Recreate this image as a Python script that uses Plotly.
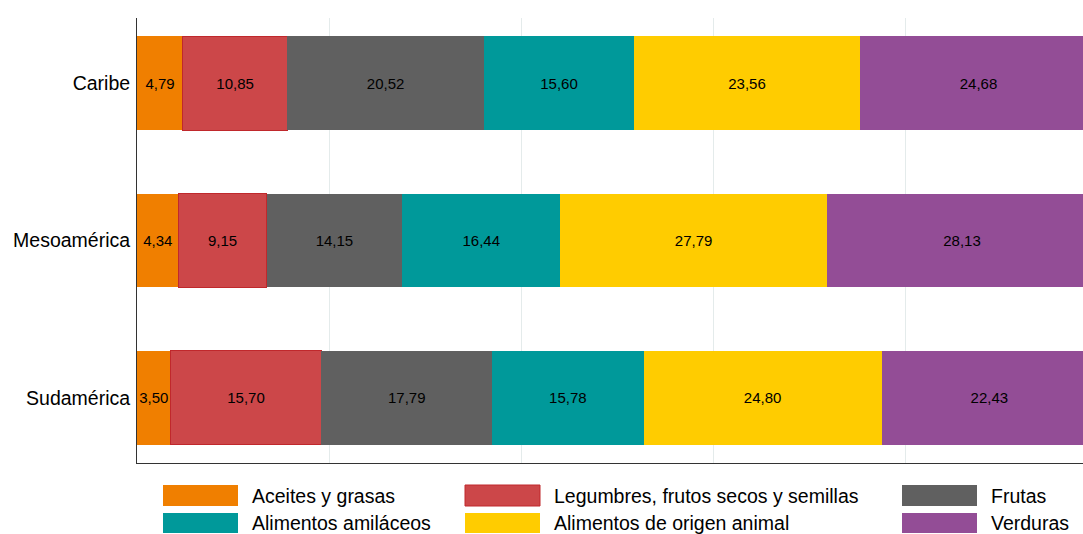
import plotly.graph_objects as go

regions = ["Caribe", "Mesoamérica", "Sudamérica"]
series_names = ["Aceites y grasas", "Legumbres, frutos secos y semillas", "Frutas",
                "Alimentos amiláceos", "Alimentos de origen animal", "Verduras"]
aceites = [4.79, 4.34, 3.50]
legumbres = [10.85, 9.15, 15.70]
frutas = [20.52, 14.15, 17.79]
amilaceos = [15.60, 16.44, 15.78]
animal = [23.56, 27.79, 24.80]
verduras = [24.68, 28.13, 22.43]
series_values = [aceites, legumbres, frutas, amilaceos, animal, verduras]

colors = ["#F07F00", "#CC4749", "#606060", "#00999A", "#FFCC00", "#934D96"]
line_colors = [None, "#C0282C", None, None, None, None]

FONT = "Arial, 'Liberation Sans', sans-serif"
W, H = 1083, 534
ML, MR, MT, MB = 137, 0, 18, 71
plot_w = W - ML - MR
plot_h = H - MT - MB

fig = go.Figure()
for name, vals, col, lc in zip(series_names, series_values, colors, line_colors):
    fig.add_trace(go.Bar(
        y=regions, x=vals, name=name, orientation="h",
        marker=dict(color=col, line=dict(color=lc if lc else col, width=1 if lc else 0)),
        width=0.595,
        texttemplate="%{x:.2f}", textposition="inside", insidetextanchor="middle",
        textangle=0, constraintext="none",
        textfont=dict(family=FONT, size=15, color="#000000"),
        showlegend=False, hoverinfo="skip",
    ))

# custom legend (swatches as shapes, labels as annotations); page pixel positions
col_px = [163, 465, 902]
row_px = [(485, 506), (513, 533)]
txt_center = [496, 523]
sw_w = 75
txt_gap = 13
order = [[0, 1, 2], [3, 4, 5]]


def px_to_paper_x(px):
    return (px - ML) / plot_w


def px_to_paper_y(py):
    return (MT + plot_h - py) / plot_h


shapes = []
annotations = []
for r, row in enumerate(order):
    y0p, y1p = row_px[r]
    for c, idx in enumerate(row):
        lc = line_colors[idx] if line_colors[idx] else colors[idx]
        shapes.append(dict(type="rect", xref="paper", yref="paper",
                           x0=px_to_paper_x(col_px[c]), x1=px_to_paper_x(col_px[c] + sw_w),
                           y0=px_to_paper_y(y1p), y1=px_to_paper_y(y0p),
                           fillcolor=colors[idx],
                           line=dict(color=lc, width=1 if line_colors[idx] else 0)))
        annotations.append(dict(xref="paper", yref="paper",
                                x=px_to_paper_x(col_px[c] + sw_w + txt_gap),
                                y=px_to_paper_y(txt_center[r]),
                                xanchor="left", yanchor="middle", borderpad=0,
                                text=series_names[idx], showarrow=False,
                                font=dict(family=FONT, size=19.5, color="#000000")))

fig.update_layout(
    barmode="stack",
    width=W, height=H,
    margin=dict(l=ML, r=MR, t=MT, b=MB, pad=0),
    plot_bgcolor="white", paper_bgcolor="white",
    separators=",.",
    shapes=shapes, annotations=annotations,
    xaxis=dict(range=[0, plot_w / 9.6], showticklabels=False, ticks="",
               showgrid=True, gridcolor="#E4EBEB", gridwidth=1, dtick=20,
               zeroline=False, showline=True, linecolor="#333333", linewidth=1),
    yaxis=dict(range=[2.415, -0.415], ticks="", showgrid=False, zeroline=False,
               showline=True, linecolor="#333333", linewidth=1,
               tickfont=dict(family=FONT, size=19.5, color="#000000"), ticklabelstandoff=2),
    font=dict(family=FONT),
)

fig.write_html(
    "out.html",
    config={"displayModeBar": False},
    post_script="document.body.style.margin='0';document.body.style.overflow='hidden';",
)
